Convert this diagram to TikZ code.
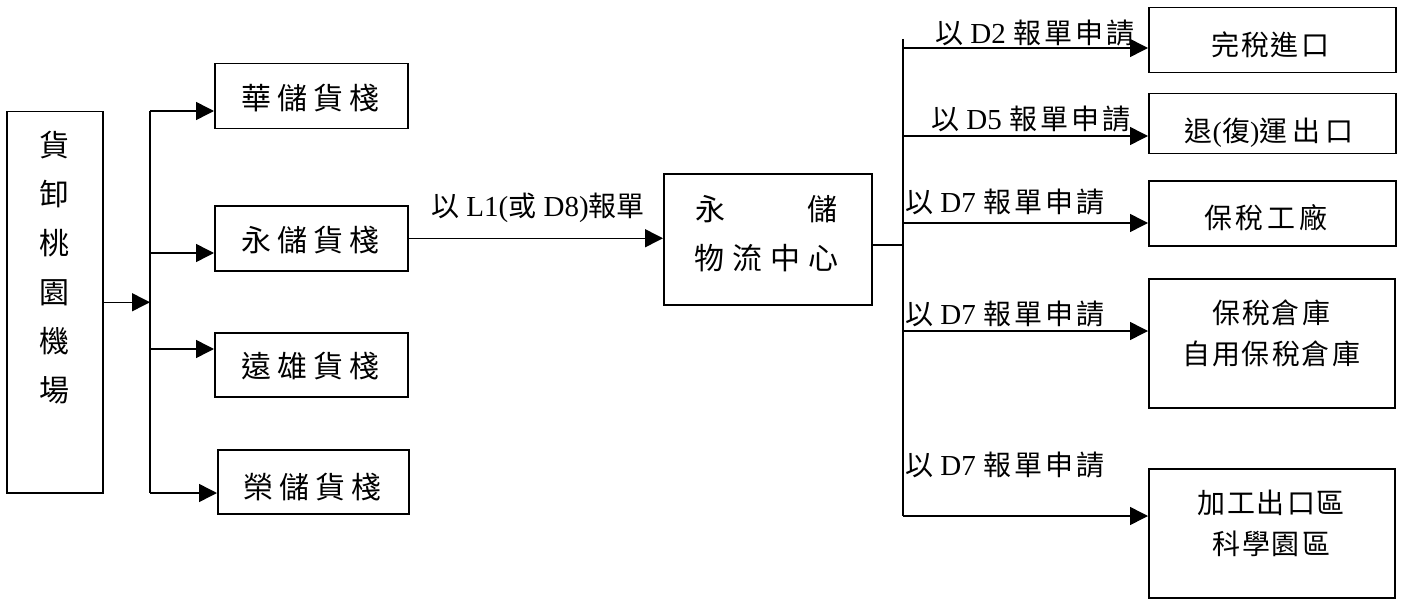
\documentclass[tikz,border=0pt]{standalone}
\usepackage{fontspec}
\setmainfont{Liberation Serif}
\newfontfamily\cjk{Noto Sans CJK TC}
\newcommand\lc{\cjk\fontsize{28}{34}\selectfont}
\usetikzlibrary{arrows.meta}
\makeatletter
\newcommand\spread[2]{\def\sp@gap{\hspace{#1}}\sp@first#2\relax}
\def\sp@first#1{\ifx\relax#1\else#1\expandafter\sp@rest\fi}
\def\sp@rest#1{\ifx\relax#1\else\sp@gap#1\expandafter\sp@rest\fi}
\makeatother
\tikzset{
  ln/.style={line width=1.5pt},
  arr/.style={line width=1.5pt, -{Triangle[length=18pt,width=18pt]}},
  box/.style={draw, line width=1.5pt, inner sep=0pt, anchor=north west},
  bigt/.style={font=\cjk\fontsize{30}{49}\selectfont, inner sep=0pt, align=center},
  rt/.style={font=\cjk\fontsize{28}{41}\selectfont, inner sep=0pt, align=center},
  lab/.style={font=\fontsize{29}{34}\selectfont, inner sep=0pt, anchor=west},
}
\begin{document}
\begin{tikzpicture}[x=1pt,y=-1pt]
\useasboundingbox (0,0) rectangle (1424,599);
% boxes
\node[box, minimum width=96pt, minimum height=381pt] (A) at (6,111) {};
\node[box, minimum width=193pt, minimum height=65pt] (B1) at (214,63) {};
\node[box, minimum width=193pt, minimum height=65pt] (B2) at (214,205) {};
\node[box, minimum width=193pt, minimum height=64pt] (B3) at (214,332) {};
\node[box, minimum width=191pt, minimum height=64pt] (B4) at (217,449) {};
\node[box, minimum width=208pt, minimum height=131pt] (C) at (663,173) {};
\node[box, minimum width=247pt, minimum height=65pt] (R1) at (1148,7) {};
\node[box, minimum width=247pt, minimum height=60pt] (R2) at (1148,93) {};
\node[box, minimum width=247pt, minimum height=65pt] (R3) at (1148,180) {};
\node[box, minimum width=246pt, minimum height=129pt] (R4) at (1148,278) {};
\node[box, minimum width=246pt, minimum height=129pt] (R5) at (1148,468) {};
% texts
\node[bigt] (At) at (54,268) {貨\\卸\\桃\\園\\機\\場};
\node[bigt] (B1t) at (310.5,98) {\spread{6pt}{華儲貨棧}};
\node[bigt] (B2t) at (310.5,240) {\spread{6pt}{永儲貨棧}};
\node[bigt] (B3t) at (310.5,366) {\spread{6pt}{遠雄貨棧}};
\node[bigt] (B4t) at (312.5,487) {\spread{6pt}{榮儲貨棧}};
\node[bigt] (Ct) at (766.5,234) {\makebox[143pt]{永\hfill 儲}\\\spread{7.7pt}{物流中心}};
\node[rt] (R1t) at (1270,45) {\spread{2pt}{完稅進口}};
\node[rt] (R2t) at (1269,133) {退{\rmfamily(}復{\rmfamily)}運\hspace{5pt}出\hspace{5pt}口};
\node[rt] (R3t) at (1266,218) {\spread{4pt}{保稅工廠}};
\node[rt] (R4t) at (1271,333) {\spread{2pt}{保稅倉庫}\\\spread{2pt}{自用保稅倉庫}};
\node[rt] (R5t) at (1271,523) {\spread{2pt}{加工出口區}\\\spread{2pt}{科學園區}};
% left connectors
\coordinate (L0) at (150,111);
\coordinate (L1) at (150,253);
\coordinate (L2) at (150,349);
\coordinate (L3) at (150,493);
\draw[ln] (L0) -- (L3);
\draw[arr] (A.east) -- (A.east -| L0);
\draw[arr] (L0) -- (L0 -| B1.west);
\draw[arr] (L1) -- (L1 -| B2.west);
\draw[arr] (L2) -- (L2 -| B3.west);
\draw[arr] (L3) -- (L3 -| B4.west);
% middle
\draw[arr] (B2.east) -- (B2.east -| C.west);
\node[lab] (lL1) at (431,208) {{\lc 以} L1({\lc 或} D8){\lc 報單}};
% right connectors
\coordinate (co) at ([yshift=-5.5pt]C.east);
\coordinate (T0) at (903,39);
\coordinate (T1) at (903,48);
\coordinate (T2) at (903,136);
\coordinate (T3) at (903,223);
\coordinate (T4) at (903,331);
\coordinate (T5) at (903,516);
\draw[ln] (T0) -- (T5);
\draw[ln] (co) -- (co -| T0);
\draw[arr] (T1) -- (T1 -| R1.west);
\draw[arr] (T2) -- (T2 -| R2.west);
\draw[arr] (T3) -- (T3 -| R3.west);
\draw[arr] (T4) -- (T4 -| R4.west);
\draw[arr] (T5) -- (T5 -| R5.west);
% labels
\node[lab] (lD2) at (935,33) {{\lc 以} D2 {\lc\spread{3pt}{報單申請}}};
\node[lab] (lD5) at (931,119) {{\lc 以} D5 {\lc\spread{3pt}{報單申請}}};
\node[lab] (lD7a) at (905,202) {{\lc 以} D7 {\lc\spread{3pt}{報單申請}}};
\node[lab] (lD7b) at (905,314) {{\lc 以} D7 {\lc\spread{3pt}{報單申請}}};
\node[lab] (lD7c) at (905,465) {{\lc 以} D7 {\lc\spread{3pt}{報單申請}}};
\end{tikzpicture}
\end{document}
